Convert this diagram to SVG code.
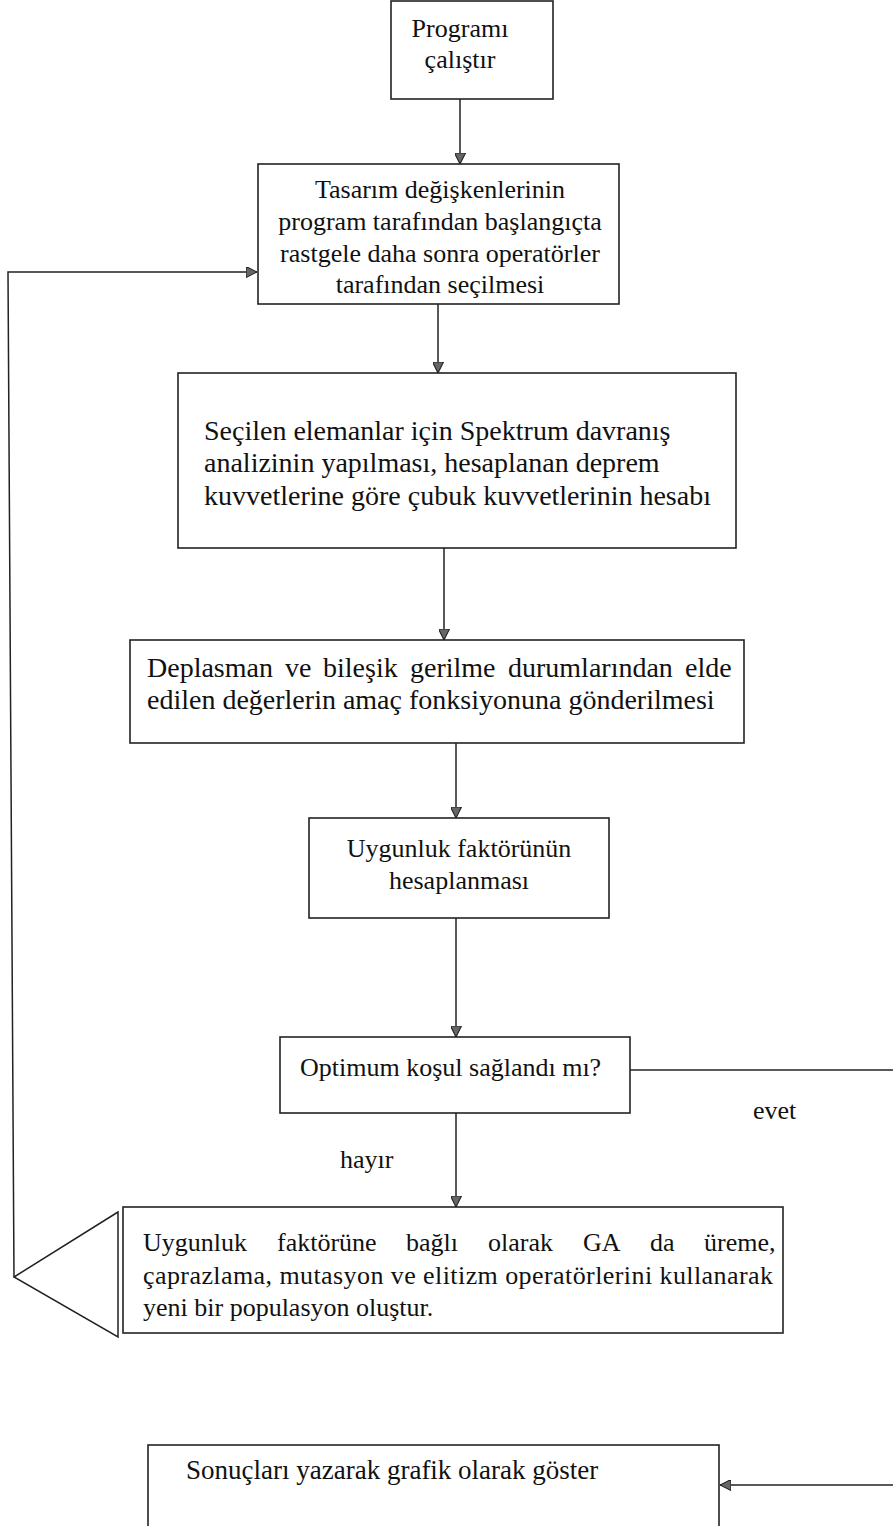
<svg xmlns="http://www.w3.org/2000/svg" width="893" height="1526" viewBox="0 0 893 1526">
<style>
.box{fill:#fff;stroke:#222;stroke-width:1.6}
.ln{fill:none;stroke:#222;stroke-width:1.5}
text{font-family:"Liberation Serif","Times New Roman",serif;font-size:26px;fill:#111}
.c{text-anchor:middle}
.big{font-size:28px}
.mid{font-size:27px}
</style>
<defs>
<marker id="ah" viewBox="0 0 10 10" refX="10" refY="5" markerWidth="11" markerHeight="11" markerUnits="userSpaceOnUse" orient="auto">
<path d="M0,0 L10,5 L0,10 z" fill="#666" stroke="#222" stroke-width="1"/>
</marker>
</defs>
<rect width="893" height="1526" fill="#fff"/>
<g id="connectors">
<line class="ln" x1="460" y1="99" x2="460" y2="164" marker-end="url(#ah)"/>
<line class="ln" x1="438" y1="304" x2="438" y2="373" marker-end="url(#ah)"/>
<line class="ln" x1="444" y1="548" x2="444" y2="640" marker-end="url(#ah)"/>
<line class="ln" x1="456" y1="743" x2="456" y2="818" marker-end="url(#ah)"/>
<line class="ln" x1="456" y1="918" x2="456" y2="1037" marker-end="url(#ah)"/>
<line class="ln" x1="456" y1="1113" x2="456" y2="1207" marker-end="url(#ah)"/>
<polyline class="ln" points="14,1277 8,272 257,272" marker-end="url(#ah)"/>
<polygon class="ln" points="118,1212 14,1277 118,1337"/>
<line class="ln" x1="630" y1="1070" x2="893" y2="1070"/>
<line class="ln" x1="893" y1="1485" x2="720" y2="1485" marker-end="url(#ah)"/>
<text x="753" y="1119">evet</text>
<text x="340" y="1168">hayır</text>
</g>
<g id="n1">
<rect class="box" x="391" y="1" width="162" height="98"/>
<text class="c" x="460" y="37">Programı</text>
<text class="c" x="460" y="68">çalıştır</text>
</g>
<g id="n2">
<rect class="box" x="258" y="164" width="361" height="140"/>
<text class="c" x="440" y="198">Tasarım değişkenlerinin</text>
<text class="c" x="440" y="230">program tarafından başlangıçta</text>
<text class="c" x="440" y="262">rastgele daha sonra operatörler</text>
<text class="c" x="440" y="293">tarafından seçilmesi</text>
</g>
<g id="n3">
<rect class="box" x="178" y="373" width="558" height="175"/>
<text class="big" x="204" y="440">Seçilen elemanlar için Spektrum davranış</text>
<text class="big" x="204" y="472">analizinin yapılması, hesaplanan deprem</text>
<text class="big" x="204" y="505">kuvvetlerine göre çubuk kuvvetlerinin hesabı</text>
</g>
<g id="n4">
<rect class="box" x="130" y="640" width="614" height="103"/>
<text class="big" y="677"><tspan x="147">Deplasman</tspan><tspan x="285">ve</tspan><tspan x="323">bileşik</tspan><tspan x="410">gerilme</tspan><tspan x="508">durumlarından</tspan><tspan x="685">elde</tspan></text>
<text class="big" x="147" y="709">edilen değerlerin amaç fonksiyonuna gönderilmesi</text>
</g>
<g id="n5">
<rect class="box" x="309" y="818" width="300" height="100"/>
<text class="c" x="459" y="857">Uygunluk faktörünün</text>
<text class="c" x="459" y="889">hesaplanması</text>
</g>
<g id="n6">
<rect class="box" x="280" y="1037" width="350" height="76"/>
<text x="300" y="1076">Optimum koşul sağlandı mı?</text>
</g>
<g id="n7">
<rect class="box" x="123" y="1207" width="660" height="126"/>
<text y="1251"><tspan x="143">Uygunluk</tspan><tspan x="277">faktörüne</tspan><tspan x="406">bağlı</tspan><tspan x="488">olarak</tspan><tspan x="583">GA</tspan><tspan x="650">da</tspan><tspan x="704">üreme,</tspan></text>
<text x="143" y="1284" textLength="630" lengthAdjust="spacing">çaprazlama, mutasyon ve elitizm operatörlerini kullanarak</text>
<text x="143" y="1316">yeni bir populasyon oluştur.</text>
</g>
<g id="n8">
<rect class="box" x="148" y="1445" width="571" height="90"/>
<text class="mid" x="186" y="1479">Sonuçları yazarak grafik olarak göster</text>
</g>
</svg>
